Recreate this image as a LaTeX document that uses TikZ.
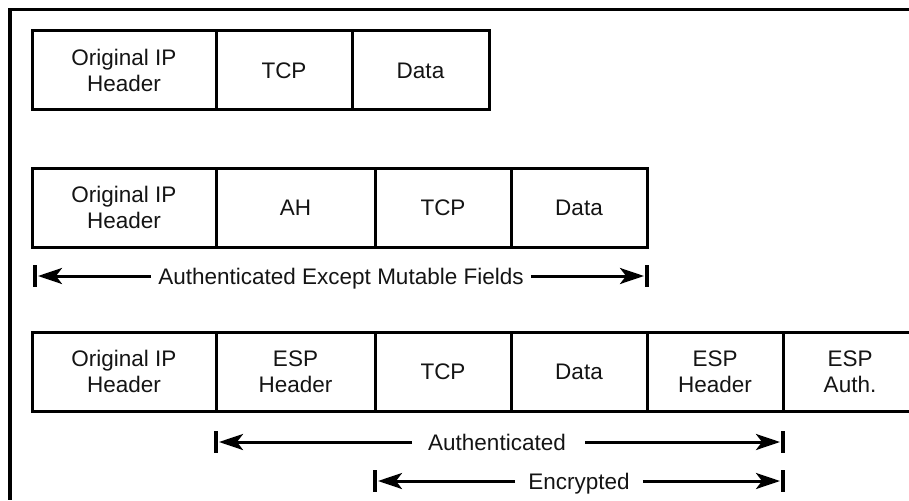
\documentclass[tikz,border=0pt]{standalone}
\usepackage{fontspec}
\setmainfont{Liberation Sans}
\usetikzlibrary{arrows.meta}
\begin{document}
\begin{tikzpicture}[x=1pt,y=-1pt,
  cell/.style={draw, line width=3pt, outer sep=0pt, minimum height=79pt, anchor=north west,
    align=center, inner sep=0pt, font=\fontsize{22.5}{26}\selectfont, text=black!92},
  opencell/.style={outer sep=0pt, minimum height=79pt, anchor=north west,
    align=center, inner sep=0pt, font=\fontsize{22.5}{26}\selectfont, text=black!92},
  lbl/.style={anchor=base, inner sep=0pt, font=\fontsize{22.5}{26}\selectfont, text=black!92},
  arr/.style={line width=3pt, -{Stealth[length=24pt,width=16pt,inset=6pt]}},
  barline/.style={line width=3.2pt},
  frame/.style={line width=3.5pt}]
\useasboundingbox (0,0) rectangle (909,500);
% outer frame (cut off at right and bottom)
\coordinate (fTL) at (10,9.5);
\coordinate (fTR) at (909,9.5);
\coordinate (fBL) at (10,500);
\draw[frame] (fTR) -- (fTL) -- (fBL);

% row 1
\node[cell, minimum width=184pt] (r1a) at (32,31) {Original IP\\Header};
\node[cell, minimum width=136pt] (r1b) at (216,31) {TCP};
\node[cell, minimum width=137pt] (r1c) at (352,31) {Data};

% row 2
\node[cell, minimum width=184pt] (r2a) at (32,168) {Original IP\\Header};
\node[cell, minimum width=159pt] (r2b) at (216,168) {AH};
\node[cell, minimum width=136pt] (r2c) at (375,168) {TCP};
\node[cell, minimum width=136pt] (r2d) at (511,168) {Data};

% row 2 arrow
\coordinate (mL) at (35,276);
\coordinate (mR) at (647,276);
\node[lbl] (mut) at (341,284) {Authenticated Except Mutable Fields};
\draw[barline] (mL) ++(0,-11) -- ++(0,22);
\draw[barline] (mR) ++(0,-11) -- ++(0,22);
\draw[arr] ([xshift=-7pt]mut.west |- mL) -- ([xshift=3pt]mL);
\draw[arr] ([xshift=7pt]mut.east |- mR) -- ([xshift=-3pt]mR);

% row 3
\node[cell, minimum width=184pt] (r3a) at (32,332) {Original IP\\Header};
\node[cell, minimum width=159pt] (r3b) at (216,332) {ESP\\Header};
\node[cell, minimum width=136pt] (r3c) at (375,332) {TCP};
\node[cell, minimum width=136pt] (r3d) at (511,332) {Data};
\node[cell, minimum width=136pt] (r3e) at (647,332) {ESP\\Header};
\node[opencell, minimum width=134pt] (r3f) at (783,332) {ESP\\Auth.};
\coordinate (rEdge) at (909,0);
\draw[line width=3pt] (r3e.north) -- (r3e.north -| rEdge);
\draw[line width=3pt] (r3e.south) -- (r3e.south -| rEdge);

% authenticated arrow
\coordinate (aL) at (216,442);
\coordinate (aR) at (783,442);
\node[lbl] (auth) at (497,450) {Authenticated};
\draw[barline] (aL) ++(0,-11) -- ++(0,22);
\draw[barline] (aR) ++(0,-11) -- ++(0,22);
\draw[arr] ([xshift=-16pt]auth.west |- aL) -- ([xshift=3pt]aL);
\draw[arr] ([xshift=19pt]auth.east |- aR) -- ([xshift=-3pt]aR);

% encrypted arrow
\coordinate (eL) at (375,481);
\coordinate (eR) at (783,481);
\node[lbl] (enc) at (579,489) {Encrypted};
\draw[barline] (eL) ++(0,-11) -- ++(0,22);
\draw[barline] (eR) ++(0,-11) -- ++(0,22);
\draw[arr] ([xshift=-13pt]enc.west |- eL) -- ([xshift=3pt]eL);
\draw[arr] ([xshift=13pt]enc.east |- eR) -- ([xshift=-3pt]eR);
\end{tikzpicture}
\end{document}
